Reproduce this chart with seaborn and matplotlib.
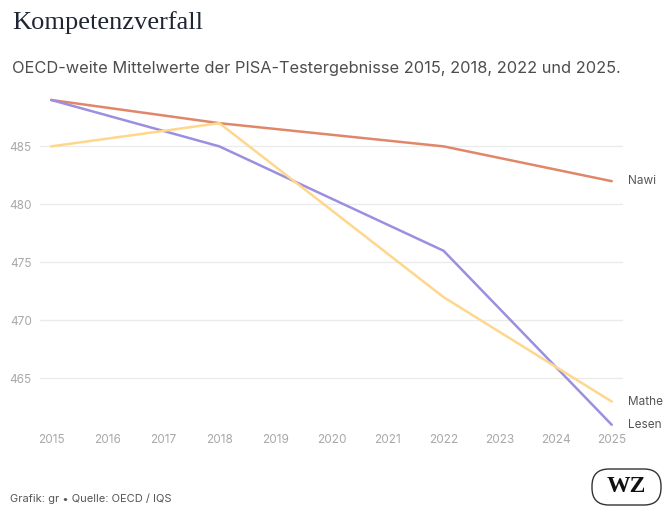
import seaborn as sns
import matplotlib.pyplot as plt
from matplotlib.patches import FancyBboxPatch
import pandas as pd

years = [2015, 2018, 2022, 2025]
nawi = [489, 487, 485, 482]
lesen = [489, 485, 476, 461]
mathe = [485, 487, 472, 463]
series_names = ['Nawi', 'Lesen', 'Mathe']
colors = {'Nawi': '#e0876a', 'Lesen': '#9b8fe0', 'Mathe': '#ffd78c'}
x_ticks = list(range(2015, 2026))
y_ticks = [465, 470, 475, 480, 485]

rows = []
for name, vals in zip(series_names, [nawi, lesen, mathe]):
    for y, v in zip(years, vals):
        rows.append((name, y, v))
df = pd.DataFrame(rows, columns=['Fach', 'Jahr', 'Wert'])

sns.set_style('white')
plt.rcParams['font.family'] = ['Inter', 'DejaVu Sans']

W, H = 672, 518
fig = plt.figure(figsize=(W / 100, H / 100), dpi=100)
ax = fig.add_axes([0.0595, 0.18, 0.8675, 0.627])

sns.lineplot(data=df, x='Jahr', y='Wert', hue='Fach', palette=colors,
             linewidth=1.8, legend=False, ax=ax)
for line in ax.get_lines():
    line.set_clip_on(False)

ax.set_xlim(2014.8, 2025.2)
ax.set_ylim(461, 489)
ax.set_xticks(x_ticks)
ax.set_yticks(y_ticks)
ax.tick_params(axis='both', length=0, labelsize=8.5, labelcolor='#a8a8a8')
ax.tick_params(axis='x', pad=7)
ax.tick_params(axis='y', pad=6)
ax.grid(axis='y', color='#ebebeb', linewidth=1)
ax.set_xlabel('')
ax.set_ylabel('')
sns.despine(ax=ax, left=True, bottom=True)

for name, vals in zip(series_names, [nawi, lesen, mathe]):
    ax.annotate(name, xy=(years[-1], vals[-1]), xytext=(12, 0),
                textcoords='offset points', va='center', ha='left',
                fontsize=8.5, color='#555555', annotation_clip=False)

fig.text(0.018, 0.957, 'Kompetenzverfall', family='Liberation Serif',
         fontsize=19, color='#1f2633', va='center', ha='left')
fig.text(0.018, 0.868,
         'OECD-weite Mittelwerte der PISA-Testergebnisse 2015, 2018, 2022 und 2025.',
         fontsize=11.8, color='#4d4d4d', va='center', ha='left')
fig.text(0.015, 0.038, 'Grafik: gr \u2022 Quelle: OECD / IQS',
         fontsize=8, color='#555555', va='center', ha='left')

# WZ logo: rounded box
bx, by, bw, bh = 592 / W, 13 / H, 69 / W, 36 / H
aspect = W / H
logo = FancyBboxPatch((bx, by), bw, bh,
                      boxstyle='round,pad=0,rounding_size=%f' % (17 / W),
                      mutation_aspect=aspect,
                      transform=fig.transFigure, facecolor='white',
                      edgecolor='#333333', linewidth=1)
fig.add_artist(logo)
fig.text(bx + bw / 2, by + bh / 2, 'WZ', family='Liberation Serif', fontweight='bold',
         fontsize=17, color='#111111', va='center', ha='center')

fig.savefig('out.png', dpi=100)
